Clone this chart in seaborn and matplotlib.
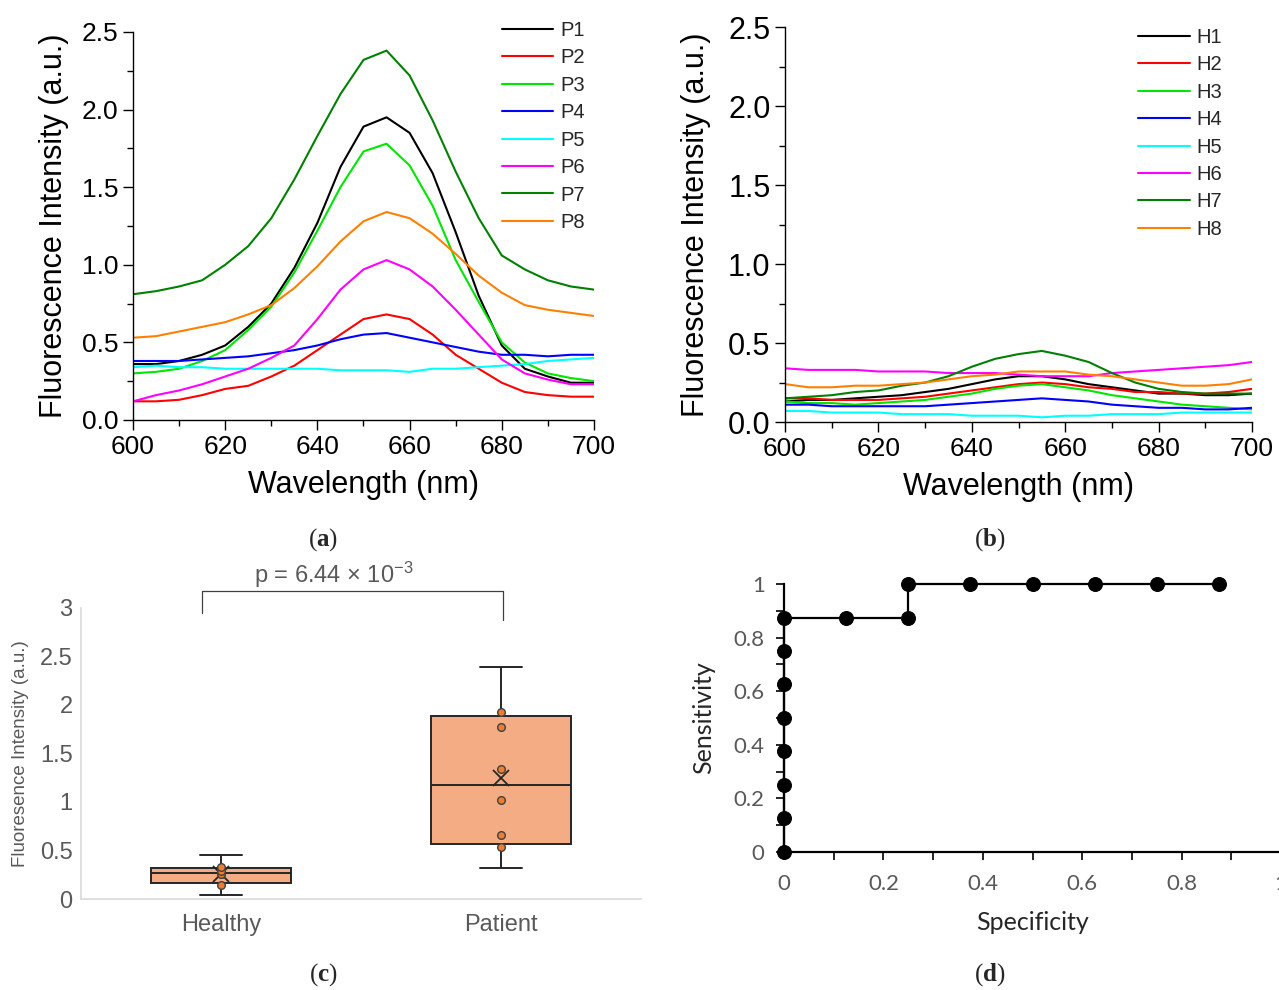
import numpy as np
import pandas as pd
import matplotlib
matplotlib.use("Agg")
import matplotlib.pyplot as plt
from matplotlib.path import Path
from matplotlib.ticker import MultipleLocator, FuncFormatter
import seaborn as sns

# spectra (a) and (b), every 5 nm
wavelength = np.arange(600, 701, 5)

patient_names = ["P1", "P2", "P3", "P4", "P5", "P6", "P7", "P8"]
p1 = [0.36, 0.36, 0.38, 0.42, 0.48, 0.60, 0.75, 0.98, 1.27, 1.63, 1.89, 1.95, 1.85, 1.59, 1.21, 0.80, 0.48, 0.33, 0.28, 0.24, 0.24]
p2 = [0.12, 0.12, 0.13, 0.16, 0.20, 0.22, 0.28, 0.35, 0.45, 0.55, 0.65, 0.68, 0.65, 0.55, 0.42, 0.33, 0.24, 0.18, 0.16, 0.15, 0.15]
p3 = [0.30, 0.31, 0.33, 0.38, 0.45, 0.58, 0.73, 0.95, 1.22, 1.50, 1.73, 1.78, 1.64, 1.38, 1.03, 0.76, 0.50, 0.37, 0.30, 0.27, 0.25]
p4 = [0.38, 0.38, 0.38, 0.39, 0.40, 0.41, 0.43, 0.45, 0.48, 0.52, 0.55, 0.56, 0.53, 0.50, 0.47, 0.44, 0.42, 0.42, 0.41, 0.42, 0.42]
p5 = [0.34, 0.35, 0.34, 0.34, 0.33, 0.33, 0.33, 0.33, 0.33, 0.32, 0.32, 0.32, 0.31, 0.33, 0.33, 0.34, 0.35, 0.36, 0.38, 0.39, 0.40]
p6 = [0.12, 0.16, 0.19, 0.23, 0.28, 0.33, 0.40, 0.48, 0.65, 0.84, 0.97, 1.03, 0.97, 0.86, 0.71, 0.55, 0.39, 0.30, 0.26, 0.23, 0.23]
p7 = [0.81, 0.83, 0.86, 0.90, 1.00, 1.12, 1.30, 1.55, 1.83, 2.10, 2.32, 2.38, 2.22, 1.93, 1.60, 1.30, 1.06, 0.97, 0.90, 0.86, 0.84]
p8 = [0.53, 0.54, 0.57, 0.60, 0.63, 0.68, 0.74, 0.85, 0.99, 1.15, 1.28, 1.34, 1.30, 1.20, 1.07, 0.93, 0.82, 0.74, 0.71, 0.69, 0.67]

healthy_names = ["H1", "H2", "H3", "H4", "H5", "H6", "H7", "H8"]
h1 = [0.13, 0.14, 0.14, 0.15, 0.16, 0.17, 0.19, 0.21, 0.24, 0.27, 0.29, 0.29, 0.27, 0.24, 0.22, 0.20, 0.18, 0.18, 0.17, 0.17, 0.18]
h2 = [0.15, 0.15, 0.14, 0.14, 0.14, 0.15, 0.16, 0.18, 0.20, 0.22, 0.24, 0.25, 0.24, 0.22, 0.21, 0.19, 0.19, 0.18, 0.18, 0.19, 0.21]
h3 = [0.13, 0.12, 0.12, 0.11, 0.12, 0.13, 0.14, 0.16, 0.18, 0.21, 0.23, 0.24, 0.22, 0.20, 0.17, 0.15, 0.13, 0.11, 0.10, 0.09, 0.08]
h4 = [0.11, 0.11, 0.10, 0.10, 0.10, 0.10, 0.10, 0.11, 0.12, 0.13, 0.14, 0.15, 0.14, 0.13, 0.11, 0.10, 0.09, 0.09, 0.08, 0.08, 0.09]
h5 = [0.07, 0.07, 0.06, 0.06, 0.06, 0.05, 0.05, 0.05, 0.04, 0.04, 0.04, 0.03, 0.04, 0.04, 0.05, 0.05, 0.05, 0.06, 0.06, 0.06, 0.06]
h6 = [0.34, 0.33, 0.33, 0.33, 0.32, 0.32, 0.32, 0.31, 0.31, 0.31, 0.30, 0.29, 0.29, 0.29, 0.31, 0.32, 0.33, 0.34, 0.35, 0.36, 0.38]
h7 = [0.15, 0.16, 0.17, 0.19, 0.20, 0.23, 0.25, 0.29, 0.35, 0.40, 0.43, 0.45, 0.42, 0.38, 0.31, 0.25, 0.21, 0.19, 0.18, 0.18, 0.18]
h8 = [0.24, 0.22, 0.22, 0.23, 0.23, 0.24, 0.25, 0.27, 0.29, 0.30, 0.32, 0.32, 0.32, 0.30, 0.29, 0.27, 0.25, 0.23, 0.23, 0.24, 0.27]

line_colors = ["#000000", "#ff0000", "#00e600", "#0000ff", "#00ffff", "#ff00ff", "#008000", "#ff8000"]

# peak intensities for the box plot (c)
box_groups = ["Healthy", "Patient"]
healthy_peak = [0.28, 0.26, 0.26, 0.14, 0.04, 0.29, 0.45, 0.33]
patient_peak = [1.93, 0.66, 1.77, 0.54, 0.32, 1.02, 2.39, 1.34]

# ROC points (d)
roc_specificity = [0, 0, 0, 0, 0, 0, 0, 0, 0.125, 0.25, 0.25, 0.375, 0.5, 0.625, 0.75, 0.875]
roc_sensitivity = [0, 0.125, 0.25, 0.375, 0.5, 0.625, 0.75, 0.875, 0.875, 0.875, 1, 1, 1, 1, 1, 1]

sns.set_theme(style="ticks")
plt.rcParams["font.family"] = ["Liberation Sans", "DejaVu Sans"]
plt.rcParams["mathtext.fontset"] = "custom"
plt.rcParams["mathtext.rm"] = "Liberation Sans"
plt.rcParams["mathtext.bf"] = "Liberation Serif:bold"
plt.rcParams["mathtext.default"] = "regular"

fig = plt.figure(figsize=(12.79, 9.90), dpi=100)


def spectra_frame(names, rows):
    return pd.DataFrame({
        "wavelength": np.tile(wavelength, len(names)),
        "intensity": np.concatenate(rows),
        "sample": np.repeat(names, len(wavelength)),
    })


def draw_spectra(ax, df, names, legend_xy, ytick_size, ylabel_pad):
    sns.lineplot(data=df, x="wavelength", y="intensity", hue="sample", hue_order=names,
                 palette=line_colors, linewidth=1.5, errorbar=None, legend=False, ax=ax)
    ax.set_xlim(600, 700)
    ax.set_ylim(0, 2.5)
    ax.xaxis.set_major_locator(MultipleLocator(20))
    ax.xaxis.set_minor_locator(MultipleLocator(10))
    ax.yaxis.set_major_locator(MultipleLocator(0.5))
    ax.yaxis.set_minor_locator(MultipleLocator(0.25))
    ax.yaxis.set_major_formatter(FuncFormatter(lambda v, _: f"{v:.1f}"))
    ax.set_xlabel("Wavelength (nm)", fontsize=22, color="black", labelpad=8)
    ax.set_ylabel("Fluorescence Intensity (a.u.)", fontsize=22, color="black", labelpad=ylabel_pad)
    ax.tick_params(which="major", direction="out", length=7, width=1, color="black", labelcolor="black")
    ax.tick_params(axis="x", labelsize=19)
    ax.tick_params(axis="y", labelsize=ytick_size)
    ax.tick_params(which="minor", direction="out", length=4, width=1, color="black")
    for s in ["left", "bottom"]:
        ax.spines[s].set_color("black")
        ax.spines[s].set_linewidth(1)
    sns.despine(ax=ax)
    ax.legend(ax.get_lines(), names, loc="upper left", bbox_to_anchor=legend_xy,
              bbox_transform=fig.transFigure, frameon=False, fontsize=14.5,
              handlelength=2.55, handletextpad=0.35, labelspacing=0.42,
              borderpad=0, borderaxespad=0)


# (a) patients
ax_a = fig.add_axes([0.104, 0.5758, 0.3604, 0.3919])
draw_spectra(ax_a, spectra_frame(patient_names, [p1, p2, p3, p4, p5, p6, p7, p8]),
             patient_names, (0.3925, 0.979), 19, 9)

# (b) healthy
ax_b = fig.add_axes([0.6138, 0.5737, 0.3651, 0.399])
draw_spectra(ax_b, spectra_frame(healthy_names, [h1, h2, h3, h4, h5, h6, h7, h8]),
             healthy_names, (0.89, 0.972), 22, 12)

# (c) box plot
gray = "#595959"
ax_c = fig.add_axes([0.0633, 0.0919, 0.4379, 0.294])
box_df = pd.DataFrame({"group": np.repeat(box_groups, 8), "value": healthy_peak + patient_peak})
sns.boxplot(data=box_df, x="group", y="value", order=box_groups, width=0.5, whis=(0, 100),
            color="#f4ac84", saturation=1, linecolor="#262626", linewidth=1.4,
            showmeans=True, showfliers=False,
            meanprops=dict(marker="x", markeredgecolor="#262626", markersize=11, markeredgewidth=1.3),
            ax=ax_c)

# spreadsheet-style (exclusive) quartiles
for i, vals in enumerate([healthy_peak, patient_peak]):
    old = np.percentile(vals, [25, 75])
    new = np.percentile(vals, [25, 75], method="weibull")
    patch = ax_c.patches[i]
    path = patch.get_path()
    verts = np.array(path.vertices, dtype=float)
    for o, n in zip(old, new):
        verts[np.isclose(verts[:, 1], o), 1] = n
    patch.set_path(Path(verts, path.codes))
    for line in ax_c.lines:
        x = np.asarray(line.get_xdata(), dtype=float)
        y = np.array(line.get_ydata(), dtype=float)
        if len(x) == 2 and np.allclose(x, i):
            for o, n in zip(old, new):
                y[np.isclose(y, o)] = n
            line.set_ydata(y)

# narrow whisker caps (short horizontal segments; medians span the full box)
for line in ax_c.lines:
    x = np.asarray(line.get_xdata(), dtype=float)
    y = np.asarray(line.get_ydata(), dtype=float)
    if len(x) == 2 and np.isclose(y[0], y[1]) and 0 < abs(x[1] - x[0]) < 0.4:
        c = x.mean()
        line.set_xdata([c - 0.075, c + 0.075])

lo = box_df.groupby("group")["value"].transform("min")
hi = box_df.groupby("group")["value"].transform("max")
inner_df = box_df[(box_df["value"] > lo) & (box_df["value"] < hi)]
sns.stripplot(data=inner_df, x="group", y="value", order=box_groups, jitter=False,
              color="#ed7d31", edgecolor="#404040", linewidth=1, size=5.5, ax=ax_c, zorder=4)
ax_c.set_xlim(-0.5, 1.5)
ax_c.set_ylim(0, 3)
ax_c.yaxis.set_major_locator(MultipleLocator(0.5))
ax_c.yaxis.set_major_formatter(FuncFormatter(lambda v, _: f"{v:g}"))
ax_c.tick_params(length=0, labelcolor=gray)
ax_c.tick_params(axis="x", labelsize=17, pad=11)
ax_c.tick_params(axis="y", labelsize=17, pad=6)
ax_c.set_xlabel("")
ax_c.set_ylabel("Fluoresence Intensity (a.u.)", fontsize=13.5, color=gray, labelpad=8)
for s in ["top", "right"]:
    ax_c.spines[s].set_visible(False)
for s in ["left", "bottom"]:
    ax_c.spines[s].set_color("#d9d9d9")
    ax_c.spines[s].set_linewidth(1.2)
# significance bracket
ax_c.plot([-0.068, -0.068, 1.007, 1.007], [2.95, 3.175, 3.175, 2.88], color="#404040",
          linewidth=0.9, clip_on=False)
ax_c.text(0.404, 3.34, "p = 6.44 × 10$^{-3}$", ha="center", va="center", fontsize=17,
          color=gray, clip_on=False)

# (d) ROC
ax_d = fig.add_axes([0.613, 0.1394, 0.3886, 0.2707])
sns.lineplot(x=roc_specificity, y=roc_sensitivity, estimator=None, sort=False, color="black",
             linewidth=1.6, marker="o", markersize=10, markeredgecolor="black",
             clip_on=False, ax=ax_d)
ax_d.set_xlim(0, 1)
ax_d.set_ylim(0, 1)
ax_d.xaxis.set_major_locator(MultipleLocator(0.2))
ax_d.xaxis.set_minor_locator(MultipleLocator(0.1))
ax_d.yaxis.set_major_locator(MultipleLocator(0.2))
ax_d.yaxis.set_minor_locator(MultipleLocator(0.1))
fmt = FuncFormatter(lambda v, _: f"{v:g}")
ax_d.xaxis.set_major_formatter(fmt)
ax_d.yaxis.set_major_formatter(fmt)
ax_d.tick_params(which="both", direction="out", length=6, width=1.2, color="black",
                 labelcolor=gray, labelsize=16)
ax_d.tick_params(axis="x", pad=10)
ax_d.tick_params(axis="y", pad=8)
for lab in ax_d.get_xticklabels() + ax_d.get_yticklabels():
    lab.set_family(["Lato", "DejaVu Sans"])
ax_d.set_xlabel("Specificity", fontsize=18, family=["Lato", "DejaVu Sans"], labelpad=12)
ax_d.set_ylabel("Sensitivity", fontsize=18, family=["Lato", "DejaVu Sans"], labelpad=13)
for s in ["left", "bottom"]:
    ax_d.spines[s].set_color("black")
    ax_d.spines[s].set_linewidth(1.6)
sns.despine(ax=ax_d)

# panel letters: plain parentheses, bold letter
for x, y, letter in [(0.2525, 0.4545, "a"), (0.774, 0.4545, "b"),
                     (0.2525, 0.0152, "c"), (0.774, 0.0152, "d")]:
    fig.text(x, y, "(" + r"$\mathbf{" + letter + "}$" + ")", ha="center", va="center",
             fontsize=18, family=["Liberation Serif", "DejaVu Serif"])

fig.savefig("out.png", dpi=100)
